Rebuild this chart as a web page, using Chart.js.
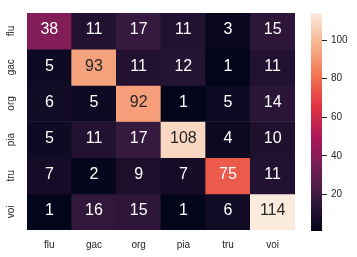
<!DOCTYPE html>
<html>
<head>
<meta charset="utf-8">
<script src="https://cdn.jsdelivr.net/npm/chart.js@4.4.0/dist/chart.umd.min.js"></script>
<style>
  body { margin: 0; background: #fff; }
  #wrap { position: relative; width: 357px; height: 257px; }
  #heat { position: absolute; left: 0; top: 0; width: 300px; height: 257px; }
  #cbar { position: absolute; left: 300px; top: 0; width: 57px; height: 257px; }
</style>
</head>
<body>
<div id="wrap">
  <div id="heat"><canvas id="heatCanvas"></canvas></div>
  <div id="cbar"><canvas id="cbarCanvas"></canvas></div>
</div>
<script>
const classes = ['flu', 'gac', 'org', 'pia', 'tru', 'voi'];
// rows = true label, columns = predicted
const row_flu = [38, 11, 17, 11, 3, 15];
const row_gac = [5, 93, 11, 12, 1, 11];
const row_org = [6, 5, 92, 1, 5, 14];
const row_pia = [5, 11, 17, 108, 4, 10];
const row_tru = [7, 2, 9, 7, 75, 11];
const row_voi = [1, 16, 15, 1, 6, 114];
const matrix = [row_flu, row_gac, row_org, row_pia, row_tru, row_voi];
const cbar_ticks = [20, 40, 60, 80, 100];

const vmin = Math.min(...matrix.flat());
const vmax = Math.max(...matrix.flat());

// rocket colormap stops
const rocket = ['#03051a', '#35193e', '#701f57', '#ad1759', '#e13342', '#f37651', '#f6b48f', '#faebdd'];
function hexRgb(h) {
  return [parseInt(h.slice(1, 3), 16), parseInt(h.slice(3, 5), 16), parseInt(h.slice(5, 7), 16)];
}
function rocketRgb(t) {
  t = Math.max(0, Math.min(1, t));
  const n = rocket.length - 1;
  const i = Math.min(n - 1, Math.floor(t * n));
  const f = t * n - i;
  const a = hexRgb(rocket[i]), b = hexRgb(rocket[i + 1]);
  return a.map((v, k) => Math.round(v + (b[k] - v) * f));
}
function cellColor(v) {
  const c = rocketRgb((v - vmin) / (vmax - vmin));
  return 'rgb(' + c.join(',') + ')';
}
function textColor(v) {
  const c = rocketRgb((v - vmin) / (vmax - vmin)).map(x => {
    x = x / 255;
    return x <= 0.03928 ? x / 12.92 : Math.pow((x + 0.055) / 1.055, 2.4);
  });
  const lum = 0.2126 * c[0] + 0.7152 * c[1] + 0.0722 * c[2];
  return lum > 0.408 ? '#262626' : '#ffffff';
}

const FONT = "'Liberation Sans', Arial, sans-serif";

const datasets = matrix.map((row, r) => ({
  label: classes[r],
  data: row.map(() => [r, r + 1]),
  backgroundColor: row.map(v => cellColor(v)),
  borderWidth: 0,
  barPercentage: 1,
  categoryPercentage: 1,
  grouped: false
}));

const annotate = {
  id: 'annotate',
  afterDatasetsDraw(chart) {
    const ctx = chart.ctx;
    const xs = chart.scales.x, ys = chart.scales.y;
    ctx.save();
    ctx.textAlign = 'center';
    ctx.textBaseline = 'middle';
    ctx.font = '16px ' + FONT;
    matrix.forEach((row, r) => {
      row.forEach((v, c) => {
        ctx.fillStyle = textColor(v);
        ctx.fillText(String(v), xs.getPixelForValue(c), ys.getPixelForValue(r + 0.5) - 1);
      });
    });
    // y tick labels, rotated
    ctx.font = '10px ' + FONT;
    ctx.fillStyle = '#262626';
    classes.forEach((name, r) => {
      ctx.save();
      ctx.translate(11, ys.getPixelForValue(r + 0.5));
      ctx.rotate(-Math.PI / 2);
      ctx.fillText(name, 0, 0);
      ctx.restore();
    });
    ctx.restore();
  }
};

new Chart(document.getElementById('heatCanvas'), {
  type: 'bar',
  data: { labels: classes, datasets: datasets },
  options: {
    responsive: true,
    maintainAspectRatio: false,
    animation: false,
    layout: { padding: { top: 13, right: 5, left: 0, bottom: 0 } },
    plugins: { legend: { display: false }, tooltip: { enabled: false } },
    scales: {
      x: {
        grid: { display: false, drawTicks: false },
        border: { display: false },
        ticks: { color: '#262626', font: { size: 10, family: FONT }, padding: 9, maxRotation: 0 },
        afterFit: s => { s.height = 27; }
      },
      y: {
        type: 'linear',
        min: 0,
        max: 6,
        reverse: true,
        grid: { display: false, drawTicks: false },
        border: { display: false },
        ticks: { display: false },
        afterFit: s => { s.width = 27; }
      }
    }
  },
  plugins: [annotate]
});

new Chart(document.getElementById('cbarCanvas'), {
  type: 'bar',
  data: {
    labels: [''],
    datasets: [{
      data: [[vmin, vmax]],
      borderWidth: 0,
      barPercentage: 1,
      categoryPercentage: 1,
      backgroundColor: ctx => {
        const area = ctx.chart.chartArea;
        if (!area) return '#000';
        const g = ctx.chart.ctx.createLinearGradient(0, area.bottom, 0, area.top);
        rocket.forEach((c, i) => g.addColorStop(i / (rocket.length - 1), c));
        return g;
      }
    }]
  },
  options: {
    responsive: true,
    maintainAspectRatio: false,
    animation: false,
    layout: { padding: { top: 13, right: 0, left: 11, bottom: 26 } },
    plugins: { legend: { display: false }, tooltip: { enabled: false } },
    scales: {
      x: { display: false },
      y: {
        position: 'right',
        min: vmin,
        max: vmax,
        afterBuildTicks: s => { s.ticks = cbar_ticks.map(v => ({ value: v })); },
        grid: { drawOnChartArea: false, drawTicks: true, tickLength: 5, color: '#262626' },
        border: { display: false },
        ticks: { color: '#262626', font: { size: 10, family: FONT }, padding: 4 },
        afterFit: s => { s.width = 35; }
      }
    }
  }
});
</script>
</body>
</html>
